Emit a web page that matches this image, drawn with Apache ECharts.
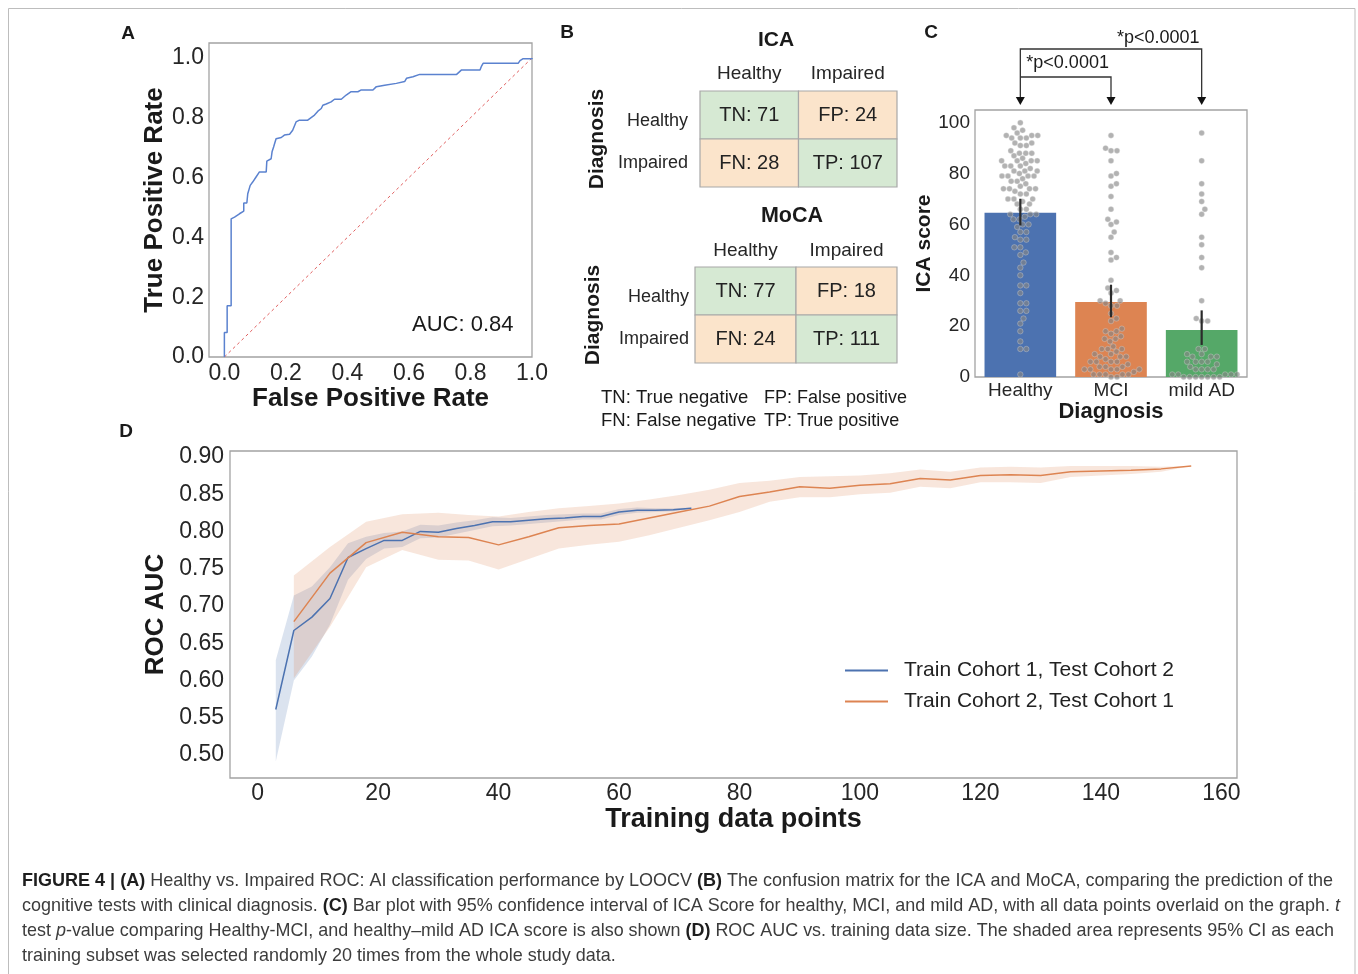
<!DOCTYPE html>
<html><head><meta charset="utf-8">
<script src="https://cdn.jsdelivr.net/npm/echarts@6/dist/echarts.min.js"></script>
<style>html,body{margin:0;padding:0;background:#fff}#c{width:1358px;height:974px}</style>
</head><body><div id="c"></div>
<script>
// ---------------- DATA ----------------
// Panel A: ROC curve vertices [FPR, TPR]
const rocPts = [[0,0],[0,0.082],[0.009,0.082],[0.009,0.171],[0.022,0.171],[0.022,0.462],[0.033,0.468],[0.049,0.479],[0.063,0.488],[0.063,0.515],[0.073,0.515],[0.076,0.546],[0.084,0.574],[0.092,0.585],[0.103,0.602],[0.114,0.619],[0.136,0.619],[0.138,0.655],[0.152,0.663],[0.155,0.686],[0.160,0.702],[0.168,0.730],[0.185,0.734],[0.195,0.742],[0.212,0.745],[0.222,0.758],[0.233,0.786],[0.244,0.792],[0.271,0.792],[0.277,0.798],[0.293,0.809],[0.304,0.822],[0.315,0.831],[0.320,0.842],[0.331,0.846],[0.347,0.853],[0.358,0.862],[0.380,0.862],[0.396,0.876],[0.412,0.887],[0.434,0.887],[0.445,0.893],[0.483,0.893],[0.494,0.904],[0.521,0.909],[0.559,0.915],[0.586,0.921],[0.592,0.932],[0.613,0.937],[0.635,0.945],[0.755,0.945],[0.760,0.951],[0.771,0.960],[0.831,0.960],[0.836,0.973],[0.841,0.982],[0.955,0.982],[0.961,0.991],[0.970,0.997],[1.0,0.997],[1.0,1.0]];
const chanceLine = [[0,0],[1,1]];
const aucText = 'AUC: 0.84';
const rocTicks = [0,0.2,0.4,0.6,0.8,1.0];

// Panel B: confusion matrices
const cmLabels = ['Healthy','Impaired'];
const cmCodes = [['TN','FP'],['FN','TP']];
const icaMatrix = [[71,24],[28,107]];
const mocaMatrix = [[77,18],[24,111]];

// Panel C: ICA score by diagnosis
const diagCats = ['Healthy','MCI','mild AD'];
const barMeans = [64.6, 29.5, 18.5];
const ciLow = [59.6, 23.5, 12.6];
const ciHigh = [70.1, 36.3, 26.2];
const icaTicks = [0,20,40,60,80,100];
const healthyScores = [100,98,97,95,95,94,94,95,94,96,91,91,92,92,88,88,89,88,87,85,85,86,85,84,85,83,83,83,82,81,81,80,81,79,79,78,79,79,77,77,76,74,74,75,74,73,74,72,72,70,70,70,69,68,68,66,66,64,64,64,63,62,62,60,60,59,57,57,55,54,54,51,51,49,48,45,43,40,36,36,33,29,29,26,26,23,21,18,14,11,11,1];
const mciScores = [95,89,89,90,85,79,80,75,76,71,66,62,61,60,57,55,49,46,47,38,35,34,33,30,30,29,28,28,25,23,22,18,18,19,17,15,15,14,16,11,11,12,10,11,8,9,8,9,8,6,6,5,6,7,6,3,4,3,4,3,3,4,3,1,1,0,1,0,1,2,1];
const adScores = [96,85,76,72,69,66,64,55,52,47,43,30,22,22,23,11,11,8,9,8,9,8,6,6,5,6,6,3,3,4,3,3,1,1,0,0,1,0,0,1,0,0,1,0];

// Panel D: ROC AUC vs training size
const blueX  = [3,6,9,12,15,18,21,24,27,30,33,36,39,42,45,48,51,54,57,60,63,66,69,72];
const blueY  = [0.561,0.667,0.685,0.710,0.765,0.777,0.788,0.788,0.800,0.799,0.804,0.808,0.813,0.813,0.815,0.817,0.818,0.820,0.820,0.826,0.8285,0.8285,0.829,0.831];
const blueLo = [0.491,0.600,0.632,0.675,0.735,0.763,0.777,0.779,0.791,0.792,0.797,0.802,0.807,0.808,0.810,0.812,0.814,0.816,0.816,0.822,0.825,0.826,0.827,0.830];
const blueHi = [0.627,0.714,0.726,0.752,0.784,0.793,0.798,0.800,0.809,0.808,0.812,0.815,0.819,0.818,0.820,0.822,0.823,0.824,0.824,0.830,0.832,0.831,0.831,0.832];
const orangeX  = [6,12,18,24,30,35,40,45,50,55,60,65,70,75,80,85,90,95,100,105,110,115,120,125,130,135,140,145,150,155];
const orangeY  = [0.679,0.744,0.785,0.799,0.793,0.792,0.782,0.793,0.805,0.808,0.810,0.818,0.826,0.834,0.847,0.853,0.860,0.858,0.862,0.864,0.871,0.869,0.875,0.876,0.875,0.880,0.881,0.882,0.884,0.888];
const orangeLo = [0.603,0.672,0.752,0.775,0.762,0.761,0.749,0.763,0.777,0.782,0.786,0.795,0.805,0.815,0.826,0.840,0.846,0.846,0.850,0.852,0.860,0.858,0.866,0.866,0.865,0.873,0.875,0.877,0.880,0.888];
const orangeHi = [0.741,0.779,0.813,0.823,0.825,0.822,0.820,0.826,0.831,0.834,0.8375,0.843,0.849,0.856,0.865,0.868,0.873,0.874,0.875,0.878,0.883,0.880,0.886,0.887,0.886,0.888,0.888,0.888,0.887,0.888];
const seriesNames = ['Train Cohort 1, Test Cohort 2','Train Cohort 2, Test Cohort 1'];
const dXTicks = [0,20,40,60,80,100,120,140,160];
const dYTicks = [0.50,0.55,0.60,0.65,0.70,0.75,0.80,0.85,0.90];

const captionLines = [
  '{b|FIGURE 4 | (A)} Healthy vs. Impaired ROC: AI classification performance by LOOCV {b|(B)} The confusion matrix for the ICA and MoCA, comparing the prediction of the',
  'cognitive tests with clinical diagnosis. {b|(C)} Bar plot with 95% confidence interval of ICA Score for healthy, MCI, and mild AD, with all data points overlaid on the graph. {i|t}',
  'test {i|p}-value comparing Healthy-MCI, and healthy\u2013mild AD ICA score is also shown {b|(D)} ROC AUC vs. training data size. The shaded area represents 95% CI as each',
  'training subset was selected randomly 20 times from the whole study data.'
];

// ---------------- STYLE ----------------
const FONT = '"Liberation Sans", Arial, Helvetica, sans-serif';
const TXT = '#262626';
const BORDER = '#a3a3a3';
const BLUE = '#4c72b0', ORANGE = '#dd8452', GREEN = '#55a868';
const CELL_GREEN = '#d6e9d3', CELL_PEACH = '#fbe4cb';

const chart = echarts.init(document.getElementById('c'), null, {renderer: 'canvas'});

const gridA = {left: 209, top: 43, width: 323, height: 314};
const gridB1 = {left: 700, top: 91, width: 197, height: 96};
const gridB2 = {left: 695, top: 267, width: 202, height: 96};
const gridC = {left: 975, top: 110, width: 272, height: 267};
const gridD = {left: 230, top: 451, width: 1007, height: 327};

const boxed = g => Object.assign({show: true, borderColor: BORDER, borderWidth: 1.3, backgroundColor: 'transparent'}, g);
const noLines = {axisLine: {show: false}, axisTick: {show: false}, splitLine: {show: false}};
const lab = (size, extra) => Object.assign({fontSize: size, color: TXT, fontFamily: FONT}, extra || {});
const nameStyle = size => ({fontSize: size, fontWeight: 'bold', color: '#1a1a1a', fontFamily: FONT});
const rowLabel = (size, margin) => lab(size, {margin: margin,
  formatter: (v, i) => i === 0 ? '{h|' + v + '}' : v,
  rich: {h: {fontSize: size, color: TXT, fontFamily: FONT, padding: [13, 0, 0, 0]}}});

// swarm layout (pixel-based packing, converted back to axis units)
function swarm(values, catIdx, pxPerX, pxPerY, d) {
  const sorted = values.slice().sort((a, b) => a - b);
  const placed = [];
  const out = [];
  for (const v of sorted) {
    const y = v * pxPerY;
    const cands = [0];
    for (const p of placed) {
      const dy = Math.abs(p.y - y);
      if (dy < d) { const dx = Math.sqrt(d * d - dy * dy); cands.push(p.x + dx, p.x - dx); }
    }
    cands.sort((a, b) => Math.abs(a) - Math.abs(b));
    let chosen = 0;
    for (const c of cands) {
      let ok = true;
      for (const p of placed) {
        const dx = p.x - c, dy = p.y - y;
        if (dx * dx + dy * dy < d * d - 1e-6) { ok = false; break; }
      }
      if (ok) { chosen = c; break; }
    }
    placed.push({x: chosen, y: y});
    out.push([catIdx + chosen / pxPerX, v]);
  }
  return out;
}
const pxPerCat = gridC.width / 3, pxPerScore = gridC.height / 105;
const swarmPts = [].concat(
  swarm(healthyScores, 0, pxPerCat, pxPerScore, 6),
  swarm(mciScores, 1, pxPerCat, pxPerScore, 6),
  swarm(adScores, 2, pxPerCat, pxPerScore, 6)
);

function cmData(mat) {
  const arr = [];
  for (let r = 0; r < 2; r++) for (let c = 0; c < 2; c++) arr.push([c, r, mat[r][c]]);
  return arr;
}
function cmRenderFor(mat) {
  return function (params, api) {
    const idx = params.dataIndex;
    const r = Math.floor(idx / 2), c = idx % 2;
    const ctr = api.coord([c, r]);
    const sz = api.size([1, 1]);
    return {
      type: 'rect',
      shape: {x: ctr[0] - sz[0] / 2, y: ctr[1] - sz[1] / 2, width: sz[0], height: sz[1]},
      style: {fill: (r === c) ? CELL_GREEN : CELL_PEACH, stroke: '#a8a8a8', lineWidth: 1.2},
      textContent: {style: {text: cmCodes[r][c] + ': ' + mat[r][c], fontSize: 20, fill: '#222', fontFamily: FONT}},
      textConfig: {position: 'inside'}
    };
  };
}
function bandRender(xs, lo, hi, color) {
  return function (params, api) {
    if (params.dataIndex !== 0) return null;
    const pts = [];
    for (let i = 0; i < xs.length; i++) pts.push(api.coord([xs[i], hi[i]]));
    for (let i = xs.length - 1; i >= 0; i--) pts.push(api.coord([xs[i], lo[i]]));
    return {type: 'polygon', shape: {points: pts}, style: {fill: color}};
  };
}

const option = {
  animation: false,
  backgroundColor: '#fff',
  textStyle: {fontFamily: FONT},
  grid: [boxed(gridA), gridB1, gridB2, boxed(gridC), boxed(gridD)],
  legend: {
    data: seriesNames, selectedMode: false, orient: 'vertical', left: 840, top: 655,
    itemWidth: 43, itemHeight: 2, itemGap: 10, icon: 'rect',
    textStyle: {fontSize: 21, color: '#222', fontFamily: FONT, padding: [0, 0, 0, 11]}
  },
  xAxis: [
    Object.assign({type: 'value', gridIndex: 0, min: -0.05, max: 1.0,
      axisLabel: lab(23, {customValues: rocTicks, margin: 5, formatter: v => v.toFixed(1)}),
      name: 'False Positive Rate', nameLocation: 'middle', nameGap: 28, nameTextStyle: nameStyle(26)}, noLines),
    Object.assign({type: 'category', gridIndex: 1, position: 'top', data: cmLabels,
      axisLabel: lab(19, {margin: 8})}, noLines),
    Object.assign({type: 'category', gridIndex: 2, position: 'top', data: cmLabels,
      axisLabel: lab(19, {margin: 7})}, noLines),
    Object.assign({type: 'category', gridIndex: 3, data: diagCats,
      axisLabel: lab(19, {margin: 4}),
      name: 'Diagnosis', nameLocation: 'middle', nameGap: 22, nameTextStyle: nameStyle(22)}, noLines),
    {type: 'value', gridIndex: 3, min: -0.5, max: 2.5, show: false},
    Object.assign({type: 'value', gridIndex: 4, min: -4.6, max: 162.6,
      axisLabel: lab(23, {customValues: dXTicks, margin: 4}),
      name: 'Training data points', nameLocation: 'middle', nameGap: 28, nameTextStyle: nameStyle(27)}, noLines)
  ],
  yAxis: [
    Object.assign({type: 'value', gridIndex: 0, min: 0, max: 1.05,
      axisLabel: lab(23, {customValues: rocTicks, margin: 5, formatter: v => v.toFixed(1)}),
      name: 'True Positive Rate', nameLocation: 'middle', nameRotate: 90, nameGap: 39, nameTextStyle: nameStyle(26)}, noLines),
    Object.assign({type: 'category', gridIndex: 1, inverse: true, data: cmLabels,
      axisLabel: rowLabel(18, 12),
      name: 'Diagnosis', nameLocation: 'middle', nameRotate: 90, nameGap: 92, nameTextStyle: nameStyle(21)}, noLines),
    Object.assign({type: 'category', gridIndex: 2, inverse: true, data: cmLabels,
      axisLabel: rowLabel(18, 6),
      name: 'Diagnosis', nameLocation: 'middle', nameRotate: 90, nameGap: 91, nameTextStyle: nameStyle(21)}, noLines),
    Object.assign({type: 'value', gridIndex: 3, min: 0, max: 105,
      axisLabel: lab(19, {customValues: icaTicks, margin: 5}),
      name: 'ICA score', nameLocation: 'middle', nameRotate: 90, nameGap: 39, nameTextStyle: nameStyle(21)}, noLines),
    Object.assign({type: 'value', gridIndex: 4, min: 0.469, max: 0.908,
      axisLabel: lab(23, {customValues: dYTicks, margin: 6, formatter: v => v.toFixed(2)}),
      name: 'ROC AUC', nameLocation: 'middle', nameRotate: 90, nameGap: 57, nameTextStyle: nameStyle(26)}, noLines)
  ],
  series: [
    {type: 'line', name: 'ROC', xAxisIndex: 0, yAxisIndex: 0, data: rocPts, showSymbol: false,
      lineStyle: {color: '#5b82cf', width: 1.5}, itemStyle: {color: '#5b82cf'}, z: 3},
    {type: 'line', name: 'chance', xAxisIndex: 0, yAxisIndex: 0, data: chanceLine, showSymbol: false,
      lineStyle: {color: '#e06060', width: 1, type: [3, 3]}, itemStyle: {color: '#e06060'}, z: 2},
    {type: 'custom', name: 'ICA matrix', xAxisIndex: 1, yAxisIndex: 1, data: cmData(icaMatrix), renderItem: cmRenderFor(icaMatrix)},
    {type: 'custom', name: 'MoCA matrix', xAxisIndex: 2, yAxisIndex: 2, data: cmData(mocaMatrix), renderItem: cmRenderFor(mocaMatrix)},
    {type: 'bar', name: 'mean', xAxisIndex: 3, yAxisIndex: 3, barWidth: '79%',
      data: barMeans.map((v, i) => ({value: v, itemStyle: {color: [BLUE, ORANGE, GREEN][i]}})), z: 1},
    {type: 'scatter', name: 'points', xAxisIndex: 4, yAxisIndex: 3, data: swarmPts, symbolSize: 5.5,
      itemStyle: {color: 'rgba(135,135,135,0.8)', borderColor: 'rgba(225,225,225,0.7)', borderWidth: 0.6}, z: 3},
    {type: 'custom', name: 'ci', xAxisIndex: 3, yAxisIndex: 3, z: 4,
      data: diagCats.map((c, i) => [i, ciLow[i], ciHigh[i]]),
      renderItem: (params, api) => {
        const i = params.dataIndex;
        const a = api.coord([i, ciLow[i]]);
        const b = api.coord([i, ciHigh[i]]);
        return {type: 'line', shape: {x1: a[0], y1: a[1], x2: b[0], y2: b[1]}, style: {stroke: '#2b2b2b', lineWidth: 2.2}};
      }},
    {type: 'custom', name: 'bandBlue', xAxisIndex: 5, yAxisIndex: 4, z: 1,
      data: blueX.map((x, i) => [x, blueLo[i], blueHi[i]]),
      renderItem: bandRender(blueX, blueLo, blueHi, 'rgba(76,114,176,0.2)')},
    {type: 'custom', name: 'bandOrange', xAxisIndex: 5, yAxisIndex: 4, z: 1,
      data: orangeX.map((x, i) => [x, orangeLo[i], orangeHi[i]]),
      renderItem: bandRender(orangeX, orangeLo, orangeHi, 'rgba(221,132,82,0.2)')},
    {type: 'line', name: seriesNames[0], xAxisIndex: 5, yAxisIndex: 4, showSymbol: false, z: 3,
      data: blueX.map((x, i) => [x, blueY[i]]), lineStyle: {color: BLUE, width: 1.5}, itemStyle: {color: BLUE}},
    {type: 'line', name: seriesNames[1], xAxisIndex: 5, yAxisIndex: 4, showSymbol: false, z: 3,
      data: orangeX.map((x, i) => [x, orangeY[i]]), lineStyle: {color: ORANGE, width: 1.5}, itemStyle: {color: ORANGE}}
  ]
};
chart.setOption(option);

// ---------------- annotations / text ----------------
const g = [];
g.push({type: 'rect', shape: {x: 8.5, y: 8.5, width: 1346.5, height: 1000}, style: {fill: 'none', stroke: '#bdbdbd', lineWidth: 1}, silent: true});
const txt = (x, y, text, size, bold, align) => ({type: 'text', x: x, y: y,
  style: {text: text, fontSize: size, fontWeight: bold ? 'bold' : 'normal', fontFamily: FONT, fill: '#1a1a1a',
    textAlign: align || 'center', textVerticalAlign: 'middle'}});
g.push(txt(128, 34, 'A', 19, true), txt(567, 33, 'B', 19, true), txt(931, 33, 'C', 19, true), txt(126, 432, 'D', 19, true));
g.push(txt(776, 40, 'ICA', 21, true), txt(792, 216, 'MoCA', 21.5, true));
g.push(txt(412, 325, aucText, 22, false, 'left'));
g.push(txt(601, 398, 'TN: True negative', 18.5, false, 'left'), txt(764, 398, 'FP: False positive', 18, false, 'left'));
g.push(txt(601, 421, 'FN: False negative', 18.5, false, 'left'), txt(764, 421, 'TP: True positive', 18, false, 'left'));

// significance brackets in panel C (x from the axis)
const xH = chart.convertToPixel({xAxisIndex: 4}, 0);
const xM = chart.convertToPixel({xAxisIndex: 4}, 1);
const xA = chart.convertToPixel({xAxisIndex: 4}, 2);
const tipY = gridC.top - 5, upperY = gridC.top - 61, lowerY = gridC.top - 33;
const lineStyle = {stroke: '#333', lineWidth: 1.3, fill: 'none'};
g.push({type: 'polyline', shape: {points: [[xH, tipY - 7], [xH, upperY], [xA, upperY], [xA, tipY - 7]]}, style: lineStyle});
g.push({type: 'polyline', shape: {points: [[xH, lowerY], [xM, lowerY], [xM, tipY - 7]]}, style: lineStyle});
[xH, xM, xA].forEach(x => g.push({type: 'polygon', shape: {points: [[x - 4.5, tipY - 8], [x + 4.5, tipY - 8], [x, tipY]]}, style: {fill: '#111'}}));
g.push(txt(xM + 6, upperY - 11, '*p<0.0001', 18, false, 'left'));
g.push(txt(xH + 6, lowerY - 14, '*p<0.0001', 18, false, 'left'));

// caption
const capTargets = [1333, 1340, 1334, null];
const capY = [881, 906, 931, 956];
const cv = document.createElement('canvas').getContext('2d');
function measure(line) {
  let w = 0;
  const re = /\{([a-z])\|([^}]*)\}|([^{]+)/g;
  let m;
  while ((m = re.exec(line))) {
    let font = '19px ' + FONT, t = m[3];
    if (m[1]) { t = m[2]; font = (m[1] === 'b' ? 'bold ' : 'italic ') + '19px ' + FONT; }
    cv.font = font; w += cv.measureText(t).width;
  }
  return w;
}
const scales = [];
captionLines.forEach((line, i) => {
  let s;
  if (capTargets[i]) { s = (capTargets[i] - 22) / measure(line); scales.push(s); }
  else s = scales.reduce((a, b) => a + b, 0) / scales.length;
  g.push({type: 'text', x: 22, y: capY[i], scaleX: s,
    style: {text: line, fontSize: 19, fontFamily: FONT, fill: '#3c3c3c', textAlign: 'left', textVerticalAlign: 'middle',
      rich: {b: {fontWeight: 'bold', fill: '#1e1e1e', fontSize: 19, fontFamily: FONT}, i: {fontStyle: 'italic', fontSize: 19, fontFamily: FONT, fill: '#3c3c3c'}}}});
});

chart.setOption({graphic: g});
</script></body></html>
